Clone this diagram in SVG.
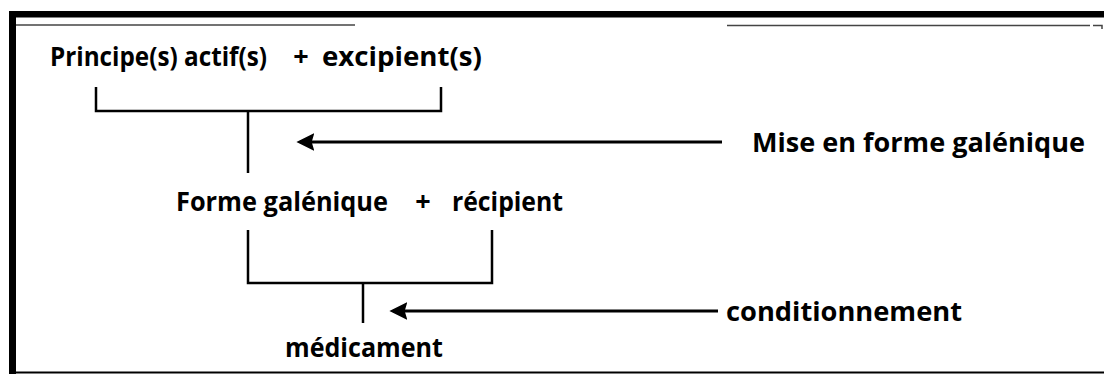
<svg xmlns="http://www.w3.org/2000/svg" width="1104" height="374" viewBox="0 0 1104 374">
  <defs>
    <style>
      .t { font-family: "Open Sans", "Liberation Sans", sans-serif; font-weight: 700; font-size: 27px; fill: #000; }
      .ln { stroke: #000; stroke-width: 2.5; fill: none; stroke-linejoin: miter; }
      .ar { stroke: #000; stroke-width: 3; fill: none; }
    </style>
    <marker id="ah" viewBox="0 0 10 10" refX="8" refY="5" markerWidth="6" markerHeight="6" orient="auto" markerUnits="strokeWidth">
      <path d="M10,5 L0,0 L1.5,5 L0,10 Z" fill="#000"/>
    </marker>
  </defs>
  <rect width="1104" height="374" fill="#fff"/>
  <g id="frame">
    <rect x="9" y="11" width="1095" height="6.5" fill="#000"/>
    <rect x="9" y="11" width="7" height="363" fill="#000"/>
    <line x1="16" y1="372.5" x2="1104" y2="372.5" stroke="#000" stroke-width="1.8"/>
    <line x1="16" y1="25" x2="355" y2="25" stroke="#444" stroke-width="1.5"/>
    <line x1="727" y1="25.5" x2="1090" y2="25.5" stroke="#444" stroke-width="1.5"/>
    <path d="M1093,25.5 H1102 V29" stroke="#444" stroke-width="1.5" fill="none"/>
  </g>
  <g id="n-principes">
    <text class="t" x="50" y="66" textLength="217" lengthAdjust="spacingAndGlyphs">Principe(s) actif(s)</text>
    <text class="t" x="301" y="66" text-anchor="middle">+</text>
    <text class="t" x="322" y="66" textLength="160" lengthAdjust="spacingAndGlyphs">excipient(s)</text>
  </g>
  <g id="n-forme">
    <text class="t" x="176" y="211" textLength="212" lengthAdjust="spacingAndGlyphs">Forme galénique</text>
    <text class="t" x="423" y="211" text-anchor="middle">+</text>
    <text class="t" x="452" y="211" textLength="111" lengthAdjust="spacingAndGlyphs">récipient</text>
  </g>
  <g id="n-medicament">
    <text class="t" x="285" y="357" textLength="158" lengthAdjust="spacingAndGlyphs">médicament</text>
  </g>
  <g id="n-mise">
    <text class="t" x="752" y="152" textLength="333" lengthAdjust="spacingAndGlyphs">Mise en forme galénique</text>
  </g>
  <g id="n-cond">
    <text class="t" x="726" y="321" textLength="236" lengthAdjust="spacingAndGlyphs">conditionnement</text>
  </g>
  <g id="connectors">
    <path class="ln" d="M96,87 V111 H441 V87"/>
    <line class="ln" x1="248" y1="111" x2="248" y2="173"/>
    <path class="ln" d="M248,230 V283 H492 V230"/>
    <line class="ln" x1="363" y1="283" x2="363" y2="323"/>
    <line class="ar" x1="722" y1="142" x2="300" y2="142" marker-end="url(#ah)"/>
    <line class="ar" x1="718" y1="311" x2="393" y2="311" marker-end="url(#ah)"/>
  </g>
</svg>
